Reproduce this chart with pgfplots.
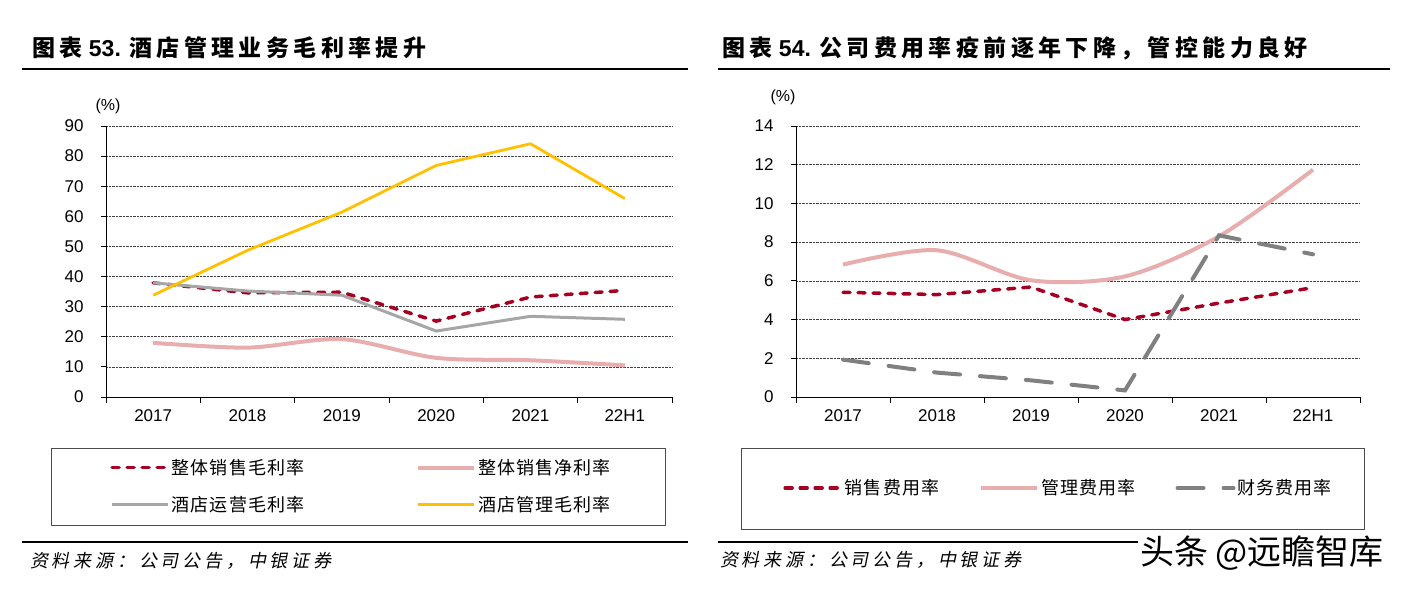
\documentclass[border=0pt]{standalone}
\usepackage{pgfplots}
\pgfplotsset{compat=1.18}
\usepackage{fontspec}
\setmainfont{Liberation Sans}
\newfontfamily\cjkt{Noto Sans CJK SC}[LetterSpace=19]
\newfontfamily\cjkl{Noto Sans CJK SC}[LetterSpace=6]
\newfontfamily\cjks{Noto Sans CJK SC}[LetterSpace=21,FakeSlant=0.2]
\newfontfamily\cjkw{Noto Sans CJK SC}
\definecolor{dred}{HTML}{A50021}
\definecolor{lpink}{HTML}{E8AEAE}
\definecolor{lgray}{HTML}{A6A6A6}
\definecolor{gold}{HTML}{FFC000}
\definecolor{dgray}{HTML}{808080}
\pgfplotsset{myax/.style={
  scale only axis, height=271pt,
  xmin=-0.5, xmax=5.5, ymin=0,
  axis x line*=bottom, axis y line*=left,
  axis line style={-, black, line width=0.9pt},
  xtick={0,...,5}, xticklabels={2017,2018,2019,2020,2021,22H1},
  minor xtick={-0.5,0.5,...,5.5},
  tick align=outside,
  major tick length=5pt, minor tick length=6pt,
  major x tick style={draw=none},
  minor x tick style={black, line width=0.9pt},
  y tick style={black, line width=0.9pt},
  ymajorgrids, grid style={densely dotted, black!75, line width=0.7pt},
  /pgf/number format/assume math mode=true,
  tick label style={font=\fontsize{17}{17}\selectfont},
  yticklabel style={xshift=-14pt},
  xticklabel style={yshift=-4pt},
  clip=false,
  legend style={draw=none, fill=none, font=\cjkl\fontsize{18}{18}\selectfont},
  legend cell align=left,
  legend image code/.code={\draw[##1] (0pt,0pt) -- (56pt,0pt);},
}}
\begin{document}
\begin{tikzpicture}[x=1pt,y=1pt]
\path (0,0) rectangle (1408,589);
% titles
\node[anchor=west, inner sep=0pt] at (32,541) {\bfseries\fontsize{23}{23}\selectfont{\cjkt 图表} 53. {\cjkt 酒店管理业务毛利率提升}};
\node[anchor=west, inner sep=0pt] at (722,541) {\bfseries\fontsize{23}{23}\selectfont{\cjkt 图表} 54. {\cjkt 公司费用率疫前逐年下降，管控能力良好}};
\draw[line width=2.2pt] (22,520) -- (688,520);
\draw[line width=2.2pt] (718,520) -- (1390,520);
\draw[line width=2.2pt] (22,47) -- (688,47);
\node[anchor=west, inner sep=0pt] at (30,28) {\cjks\fontsize{18}{18}\selectfont 资料来源：公司公告，中银证券};
\node[anchor=west, inner sep=0pt] at (720,29) {\cjks\fontsize{18}{18}\selectfont 资料来源：公司公告，中银证券};
\node at (108,483) {\fontsize{16}{16}\selectfont (\%)};
\node at (783,492) {\fontsize{16}{16}\selectfont (\%)};
\draw[black!70, line width=0.8pt] (51,141) rectangle (665,64);
\draw[black!70, line width=0.8pt] (741,141) rectangle (1364,60);

\begin{axis}[myax, at={(106pt,192pt)}, anchor=south west, width=566pt,
  ymax=90, ytick={0,10,...,90},
  legend columns=2,
  legend style={at={(0.002,-0.328)}, anchor=west, row sep=16pt,
    /tikz/every even column/.append style={column sep=110pt}}]
\addplot[dred, line width=3.5pt, dash pattern=on 7pt off 8pt, line cap=round] coordinates {(0,37.9)(1,34.6)(2,34.8)(3,25.2)(4,33.2)(5,35.4)};
\addlegendentry{整体销售毛利率}
\addplot[lpink, line width=4pt, smooth] coordinates {(0,18.0)(1,16.4)(2,19.2)(3,13.0)(4,12.2)(5,10.5)};
\addlegendentry{整体销售净利率}
\addplot[lgray, line width=3pt] coordinates {(0,37.9)(1,35.2)(2,33.8)(3,21.9)(4,26.8)(5,25.8)};
\addlegendentry{酒店运营毛利率}
\addplot[gold, line width=2.8pt] coordinates {(0,33.8)(1,48.7)(2,61.4)(3,76.9)(4,84.1)(5,65.9)};
\addlegendentry{酒店管理毛利率}
\end{axis}

\begin{axis}[myax, at={(796pt,192pt)}, anchor=south west, width=564pt,
  ymax=14, ytick={0,2,...,14},
  legend columns=3,
  legend style={at={(-0.028,-0.336)}, anchor=west,
    /tikz/every even column/.append style={column sep=38pt}}]
\addplot[dred, line width=3.5pt, dash pattern=on 7pt off 8pt, line cap=round] coordinates {(0,5.41)(1,5.29)(2,5.68)(3,4.0)(4,4.85)(5,5.65)};
\addlegendentry{销售费用率}
\addplot[lpink, line width=4pt, smooth] coordinates {(0,6.84)(1,7.58)(2,6.03)(3,6.23)(4,8.30)(5,11.74)};
\addlegendentry{管理费用率}
\addplot[dgray, line width=4pt, dash pattern=on 26pt off 20pt, line cap=round] coordinates {(0,1.93)(1,1.26)(2,0.86)(3,0.34)(4,8.35)(5,7.37)};
\addlegendentry{财务费用率}
\end{axis}
\draw[line width=2.2pt] (718,47) -- (1140,47);
\node[fill=white, inner xsep=2pt, inner ysep=1pt] at (1262,36) {\cjkw\fontsize{34}{34}\selectfont 头条 @远瞻智库};
\end{tikzpicture}
\end{document}
